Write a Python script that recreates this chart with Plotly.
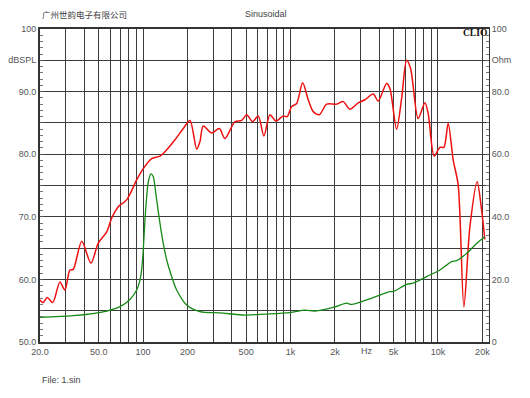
import numpy as np
import plotly.graph_objects as go

# SPL response (dB)
spl_freq = [20, 21.0, 22.4, 24.4, 27.3, 29.5, 31.9, 33.6, 38.4, 44.3, 49.7, 56.7, 61.3, 67.9, 77.4,
            90.5, 100.3, 114.4, 130.2, 144.6, 164.6, 187.4, 208, 230.9, 243, 256, 292, 329, 359,
            420, 466, 504, 553, 604, 660, 725, 796, 892, 950, 1017, 1100, 1208, 1318, 1425, 1566,
            1757, 2054, 2276, 2527, 2877, 3194, 3637, 3932, 4483, 4721, 5240, 5667, 6127, 6521,
            7338, 8151, 8582, 9425, 10302, 10964, 11725, 12678, 13708, 14985, 16458, 18443,
            19751, 20790]
spl_db = [56.7, 56.3, 57.1, 56.3, 59.6, 58.3, 61.5, 61.6, 66.1, 62.6, 65.8, 67.6, 69.8, 71.6, 72.7,
          75.9, 77.7, 79.3, 79.7, 80.7, 82.3, 84.1, 85.4, 80.8, 82.0, 84.5, 83.4, 84.1, 82.5,
          85.2, 85.4, 86.3, 85.2, 86.1, 82.9, 86.3, 85.3, 86.1, 86.0, 87.6, 88.1, 91.4, 88.7,
          86.8, 86.3, 88.0, 88.0, 88.4, 87.2, 88.2, 88.7, 89.6, 88.5, 91.3, 90.5, 84.0, 88.9,
          95.0, 93.7, 85.7, 88.2, 86.5, 79.7, 81.1, 81.1, 84.9, 79.1, 75.1, 55.6, 68.4, 75.6,
          71.1, 66.4]

# Impedance (Ohm)
imp_freq = [20, 33.6, 56.7, 69.7, 81.5, 90.5, 95.3, 97.8, 100.3, 103, 105.8, 108.5, 113.1, 117.3,
            120.4, 123.7, 130.2, 137.1, 144.6, 156.3, 169, 197.5, 243, 332, 491, 671, 991, 1252,
            1464, 2000, 2401, 2596, 3637, 4721, 4970, 6127, 6789, 8370, 10302, 12370, 13380,
            15630, 18270, 20790]
imp_ohm = [7.9, 8.4, 9.9, 11.3, 13.6, 16.6, 19.8, 23.0, 29.4, 39.0, 46.4, 51.2, 53.7, 52.8,
           49.6, 45.4, 37.9, 31.5, 26.2, 20.9, 16.6, 11.8, 9.7, 9.3, 8.6, 8.9, 9.4, 10.2,
           9.9, 11.2, 12.4, 12.0, 14.2, 16.1, 16.1, 18.4, 18.8, 20.9, 23.0, 25.7, 26.0,
           28.3, 31.5, 33.6]

x_label_vals = [20, 50, 100, 200, 500, 1000, 2000, 5000, 10000, 20000]
x_label_text = ["20.0", "50.0", "100", "200", "500", "1k", "2k", "5k", "10k", "20k"]
x_grid_vals = ([20, 30, 40, 50, 60, 70, 80, 90] + [100 * i for i in range(1, 10)] +
               [1000 * i for i in range(1, 10)] + [10000, 20000])

y1_vals = [50, 55, 60, 65, 70, 75, 80, 85, 90, 95, 100]
y1_text = ["50.0", "", "60.0", "", "70.0", "", "80.0", "", "90.0", "dBSPL", "100"]
y2_vals = [0, 20, 40, 60, 80, 90, 100]
y2_text = ["0", "20.0", "40.0", "60.0", "80.0", "Ohm", "100"]

GRID = "#3c3c3c"
TXT = "#555555"
FONT = "Liberation Sans, Arial, sans-serif"

fig = go.Figure()
fig.add_trace(go.Scatter(x=imp_freq, y=imp_ohm, mode="lines", yaxis="y2",
                         line=dict(color="#168a16", width=1.3, shape="spline", smoothing=0.8),
                         hoverinfo="skip"))
fig.add_trace(go.Scatter(x=spl_freq, y=spl_db, mode="lines",
                         line=dict(color="#ee1111", width=1.5, shape="spline", smoothing=0.8),
                         hoverinfo="skip"))

tickvals_x = x_grid_vals
ticktext_x = [x_label_text[x_label_vals.index(v)] if v in x_label_vals else "" for v in x_grid_vals]

fig.update_layout(
    width=530, height=398,
    margin=dict(l=40, r=41, t=29, b=56, pad=0, autoexpand=False),
    paper_bgcolor="white", plot_bgcolor="white",
    showlegend=False,
    font=dict(family=FONT, size=9, color=TXT),
    xaxis=dict(type="log", range=[np.log10(20), 4.346], automargin=False,
               tickmode="array", tickvals=tickvals_x, ticktext=ticktext_x,
               showgrid=True, gridcolor=GRID, gridwidth=1,
               ticks="", showline=True, linecolor="#333333", linewidth=2, mirror=True,
               zeroline=False, tickfont=dict(size=9, color=TXT)),
    yaxis=dict(range=[50, 100], tickmode="array", tickvals=y1_vals, ticktext=y1_text,
               automargin=False,
               showgrid=True, gridcolor=GRID, gridwidth=1,
               ticks="inside", ticklen=4, tickcolor="#555555",
               minor=dict(tickmode="linear", tick0=50, dtick=1, ticks="inside", ticklen=3,
                          tickcolor="#777777", showgrid=False),
               showline=True, linecolor="#333333", linewidth=2,
               zeroline=False, tickfont=dict(size=9, color=TXT)),
    yaxis2=dict(range=[0, 100], overlaying="y", side="right", automargin=False,
                tickmode="array", tickvals=y2_vals, ticktext=y2_text,
                showgrid=False, ticks="inside", ticklen=4, tickcolor="#555555",
                minor=dict(tickmode="linear", tick0=0, dtick=2, ticks="inside", ticklen=3,
                           tickcolor="#777777", showgrid=False),
                showline=True, linecolor="#333333", linewidth=1,
                zeroline=False, tickfont=dict(size=9, color=TXT)),
)

fig.add_annotation(text="广州世韵电子有限公司", xref="paper", yref="paper", x=0, y=1 + 15 / 313,
                   xanchor="left", yanchor="middle", showarrow=False,
                   font=dict(family="Noto Sans CJK SC", size=8.5, color="#444444"))
fig.add_annotation(text="Sinusoidal", xref="paper", yref="paper", x=(266 - 40) / 449, y=1 + 15 / 313,
                   xanchor="center", yanchor="middle", showarrow=False,
                   font=dict(family=FONT, size=9, color="#444444"))
fig.add_annotation(text="<b>CLIO</b>", xref="paper", yref="paper", x=1, y=1 - 4 / 313,
                   xanchor="right", yanchor="middle", showarrow=False,
                   font=dict(family="Liberation Serif, serif", size=9.5, color="#111111"))
fig.add_annotation(text="File: 1.sin", xref="paper", yref="paper", x=0, y=-(380 - 342) / 313,
                   xanchor="left", yanchor="middle", showarrow=False,
                   font=dict(family=FONT, size=9, color="#444444"))
fig.add_annotation(text="Hz", xref="x", yref="paper", x=np.log10(3280), y=-(351 - 342) / 313,
                   xanchor="center", yanchor="middle", showarrow=False,
                   font=dict(family=FONT, size=9, color=TXT))

fig.write_html("out.html", config={"displayModeBar": False},
               post_script="document.body.style.margin='0';document.body.style.overflow='hidden';")
